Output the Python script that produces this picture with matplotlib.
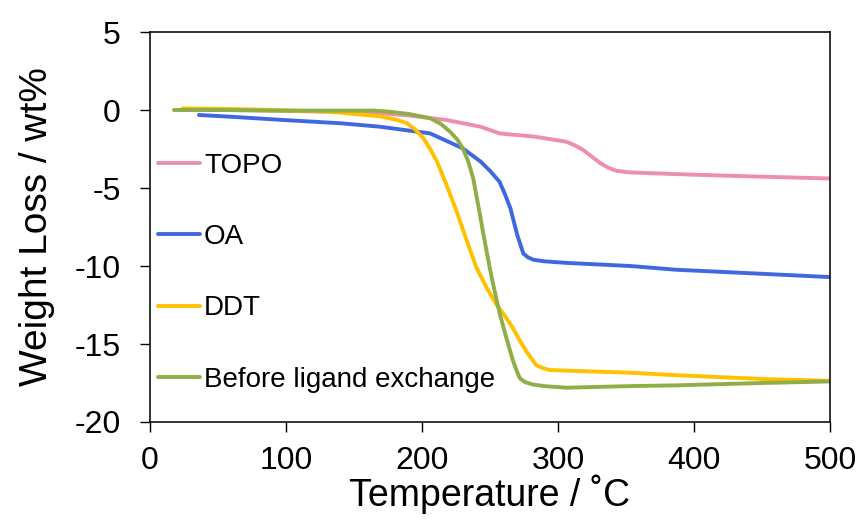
import matplotlib
matplotlib.use("Agg")
import matplotlib.pyplot as plt

plt.rcParams['font.family'] = ['Liberation Sans', 'DejaVu Sans']
plt.rcParams['axes.unicode_minus'] = False

topo_t = [20, 60, 100, 150, 169, 190, 218, 243, 257, 264, 282, 306, 312, 318.5, 325, 331, 337, 343, 353, 387, 420, 460, 500]
topo_w = [0, 0, -0.05, -0.15, -0.2, -0.35, -0.64, -1.07, -1.5, -1.56, -1.7, -2.03, -2.25, -2.56, -3.0, -3.4, -3.7, -3.9, -4.0, -4.11, -4.2, -4.3, -4.39]

oa_t = [36, 59, 98, 140, 169, 206, 230, 243, 250, 257, 261, 265, 270, 274.5, 278, 282, 290, 306, 353, 387, 450, 500]
oa_w = [-0.32, -0.43, -0.64, -0.85, -1.07, -1.5, -2.46, -3.3, -3.9, -4.6, -5.4, -6.3, -8.0, -9.2, -9.45, -9.6, -9.7, -9.8, -10.0, -10.24, -10.5, -10.71]

ddt_t = [24, 50, 92, 130, 169, 180, 189, 195, 201, 206, 211, 218, 225.5, 233, 240, 247.6, 255, 261, 267, 272, 277, 281, 284, 289, 294, 321, 353, 387, 452, 500]
ddt_w = [0.1, 0.08, 0, -0.1, -0.4, -0.6, -0.85, -1.25, -1.8, -2.5, -3.3, -4.8, -6.5, -8.4, -10.1, -11.4, -12.5, -13.2, -14.0, -14.8, -15.5, -16.0, -16.35, -16.55, -16.67, -16.75, -16.84, -17.0, -17.25, -17.36]

bef_t = [17.6, 50, 92, 164, 175, 190, 206, 214, 220.6, 226, 230, 234, 237.7, 240, 242.6, 245, 247.6, 250, 252.4, 257, 262, 265, 267, 270, 272, 276, 281.6, 290, 306, 353, 387, 450, 500]
bef_w = [0, 0, -0.04, -0.04, -0.1, -0.25, -0.53, -0.9, -1.39, -1.9, -2.46, -3.3, -4.4, -5.5, -6.7, -7.9, -9.1, -10.2, -11.2, -13.0, -14.6, -15.5, -16.1, -16.8, -17.2, -17.45, -17.6, -17.7, -17.8, -17.7, -17.65, -17.5, -17.4]

labels = ["TOPO", "OA", "DDT", "Before ligand exchange"]
colors = ["#EE8DB4", "#3F68DF", "#FFC000", "#8FAE46"]
xticks = [0, 100, 200, 300, 400, 500]
yticks = [5, 0, -5, -10, -15, -20]

fig = plt.figure(figsize=(8.61, 5.24), dpi=100)
ax = fig.add_axes([150/861, 102/524, 680/861, 390/524])

series = [(topo_t, topo_w), (oa_t, oa_w), (ddt_t, ddt_w), (bef_t, bef_w)]
for (t, w), lab, c in zip(series, labels, colors):
    ax.plot(t, w, color=c, lw=2.8, label=lab, solid_joinstyle='round', solid_capstyle='round')

ax.set_xlim(0, 500)
ax.set_ylim(-20, 5)
ax.set_xticks(xticks)
ax.set_yticks(yticks)
ax.tick_params(axis='both', direction='out', length=7, width=1.0, labelsize=23)
ax.tick_params(axis='x', pad=10)
ax.tick_params(axis='y', pad=14)
for s in ax.spines.values():
    s.set_linewidth(1.2)
    s.set_color('#111111')

ax.set_xlabel("Temperature / ˚C", fontsize=27, labelpad=-1)
ax.set_ylabel("Weight Loss / wt%", fontsize=28, labelpad=14)

ax.legend(loc='upper left', bbox_to_anchor=(0.012, 0.69), frameon=False, fontsize=20,
          handlelength=1.5, handletextpad=0.15, labelspacing=1.63, borderpad=0, borderaxespad=0)

fig.savefig("out.png", dpi=100)
